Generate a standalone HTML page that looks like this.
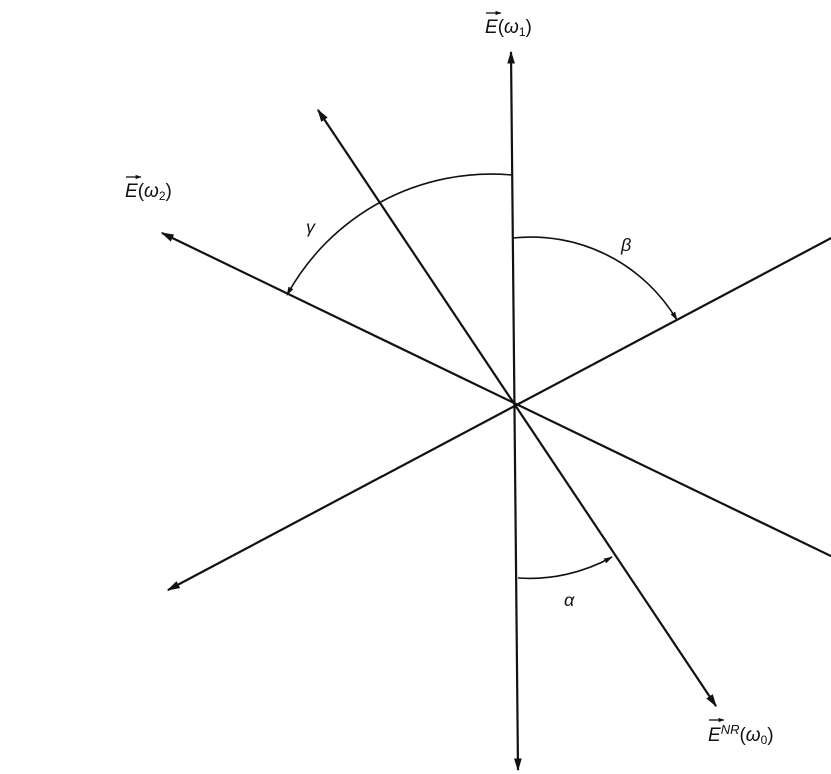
<!DOCTYPE html>
<html><head><style>
body{margin:0;background:#fff;}
svg{display:block;}
text{font-family:"Liberation Sans",sans-serif;fill:#111;}
</style></head><body>
<svg width="831" height="774" viewBox="0 0 831 774">
<defs>
<marker id="a" viewBox="0 0 10 10" refX="9" refY="5" markerWidth="13" markerHeight="13" orient="auto-start-reverse" markerUnits="userSpaceOnUse"><path d="M0,2 L10,5 L0,8 Z" fill="#111"/></marker>
<marker id="s" viewBox="0 0 10 10" refX="9" refY="5" markerWidth="9" markerHeight="9" orient="auto" markerUnits="userSpaceOnUse"><path d="M0,2 L10,5 L0,8 Z" fill="#111"/></marker>
<marker id="t" viewBox="0 0 10 10" refX="9" refY="5" markerWidth="6" markerHeight="6" orient="auto" markerUnits="userSpaceOnUse"><path d="M0,1.5 L10,5 L0,8.5 Z" fill="#111"/></marker>
</defs>
<g stroke="#111" stroke-width="2.2" fill="none">
<line x1="511" y1="52" x2="518" y2="770" marker-start="url(#a)" marker-end="url(#a)"/>
<line x1="318" y1="110" x2="716" y2="706" marker-start="url(#a)" marker-end="url(#a)"/>
<line x1="162" y1="233" x2="835" y2="558" marker-start="url(#a)"/>
<line x1="168" y1="590" x2="835" y2="236" marker-start="url(#a)"/>
</g>
<g stroke="#111" stroke-width="1.6" fill="none">
<path d="M512,175 A233,233 0 0 0 287,295" marker-end="url(#s)"/>
<path d="M513,238 A170,170 0 0 1 677,320" marker-end="url(#s)"/>
<path d="M518,578 A170,170 0 0 0 612,557" marker-end="url(#s)"/>
</g>
<g stroke="#111" stroke-width="1.3">
<line x1="486" y1="13" x2="501" y2="13" marker-end="url(#t)"/>
<line x1="126" y1="177" x2="141" y2="177" marker-end="url(#t)"/>
<line x1="709" y1="720" x2="724" y2="720" marker-end="url(#t)"/>
</g>
<g font-size="19" font-style="italic">
<text x="485" y="33">E<tspan font-style="normal">(</tspan>ω<tspan font-size="12" font-style="normal" dy="3">1</tspan><tspan font-style="normal" dy="-3">)</tspan></text>
<text x="125" y="197">E<tspan font-style="normal">(</tspan>ω<tspan font-size="12" font-style="normal" dy="3">2</tspan><tspan font-style="normal" dy="-3">)</tspan></text>
<text x="708" y="741">E<tspan font-size="13" dy="-7">NR</tspan><tspan font-style="normal" dy="7">(</tspan>ω<tspan font-size="12" font-style="normal" dy="3">0</tspan><tspan font-style="normal" dy="-3">)</tspan></text>
<text x="306" y="233" font-size="18">γ</text>
<text x="621" y="251" font-size="18">β</text>
<text x="564" y="606" font-size="18">α</text>
</g>
</svg>
</body></html>
